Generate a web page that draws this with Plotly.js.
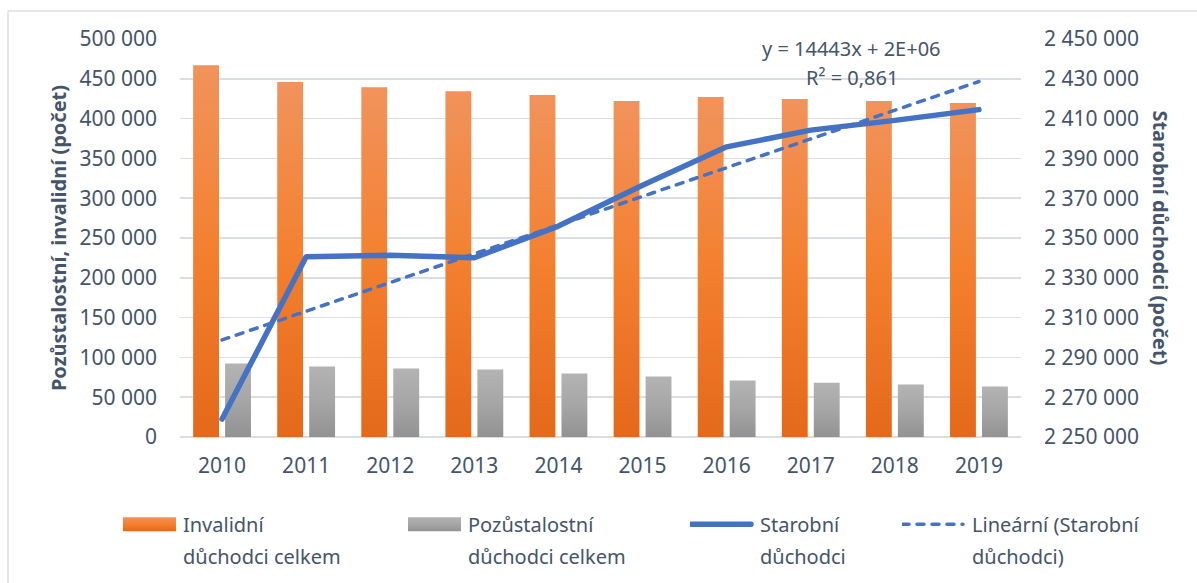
<!DOCTYPE html>
<html>
<head>
<meta charset="utf-8">
<script src="https://cdn.plot.ly/plotly-3.0.1.min.js"></script>
<style>
html,body{margin:0;padding:0;background:#fff;}
#chart{width:1197px;height:583px;}
</style>
</head>
<body>
<svg width="0" height="0" style="position:absolute">
  <defs>
    <linearGradient id="gOrange" x1="0" y1="0" x2="0" y2="1">
      <stop offset="0" stop-color="#F1935C"/>
      <stop offset="0.5" stop-color="#F3802F"/>
      <stop offset="1" stop-color="#E4691A"/>
    </linearGradient>
    <linearGradient id="gGray" x1="0" y1="0" x2="0" y2="1">
      <stop offset="0" stop-color="#B3B3B3"/>
      <stop offset="0.5" stop-color="#A6A6A6"/>
      <stop offset="1" stop-color="#929292"/>
    </linearGradient>
  </defs>
</svg>
<div id="chart"></div>
<script>
// ---- data ----
const years = ['2010','2011','2012','2013','2014','2015','2016','2017','2018','2019'];
const invalidni = [467000, 446000, 439500, 434500, 429500, 422000, 427000, 424500, 422000, 419500];
const pozustalostni = [92200, 88500, 86000, 84700, 79700, 75900, 70900, 68300, 65800, 63300];
const starobni = [2259000, 2340600, 2341300, 2340100, 2356000, 2376500, 2395800, 2404200, 2409100, 2414500];
const seriesNames = ['Invalidní<br>důchodci celkem', 'Pozůstalostní<br>důchodci celkem', 'Starobní<br>důchodci', 'Lineární (Starobní<br>důchodci)'];
const leftTicks = {min: 0, max: 500000, step: 50000};
const rightTicks = {min: 2250000, max: 2450000, step: 20000};
const equationLines = ['y = 14443x + 2E+06', 'R² = 0,861'];
const leftTitle = 'Pozůstalostní, invalidní (počet)';
const rightTitle = 'Starobní důchodci (počet)';

// linear trendline (least squares over x = 1..n), as the spreadsheet does
const xs = years.map((_, i) => i + 1);
const n = xs.length;
const mx = xs.reduce((a, b) => a + b, 0) / n;
const my = starobni.reduce((a, b) => a + b, 0) / n;
let sxy = 0, sxx = 0;
xs.forEach((x, i) => { sxy += (x - mx) * (starobni[i] - my); sxx += (x - mx) * (x - mx); });
const slope = sxy / sxx;
const intercept = my - slope * mx;
const trend = xs.map(x => intercept + slope * x);

const txtColor = '#44546A';
const fontFam = '"Noto Sans", "Open Sans", "DejaVu Sans", sans-serif';
const gradFills = ['url(#gOrange)', 'url(#gGray)'];
const barColors = ['#F07F30', '#A5A5A5'];

const traces = [
  {type: 'bar', x: years, y: invalidni, name: seriesNames[0], marker: {color: barColors[0]}, legend: 'legend', hoverinfo: 'skip'},
  {type: 'bar', x: years, y: pozustalostni, name: seriesNames[1], marker: {color: barColors[1]}, legend: 'legend2', hoverinfo: 'skip'},
  {type: 'scatter', mode: 'lines', x: years, y: starobni, yaxis: 'y2', name: seriesNames[2],
   line: {color: '#4472C4', width: 5.5}, legend: 'legend3', hoverinfo: 'skip'},
  {type: 'scatter', mode: 'lines', x: years, y: trend, yaxis: 'y2', name: seriesNames[3],
   line: {color: '#4472C4', width: 3.5, dash: '7px,8px'}, legend: 'legend4', hoverinfo: 'skip'}
];

function legendCfg(x) {
  return {x: x, xanchor: 'left', y: -0.17, yanchor: 'top', orientation: 'v', valign: 'top',
          itemwidth: 60, font: {family: fontFam, size: 20, color: txtColor}, bgcolor: 'rgba(0,0,0,0)', borderwidth: 0};
}

const layout = {
  width: 1197, height: 583,
  margin: {l: 180, r: 176, t: 39, b: 146},
  paper_bgcolor: '#ffffff', plot_bgcolor: '#ffffff',
  separators: ', ',
  font: {family: fontFam, size: 21, color: txtColor},
  barmode: 'group', bargap: 0.24, bargroupgap: 0.19,
  xaxis: {type: 'category', showgrid: false, zeroline: false, showline: false, ticks: '',
          ticklabelstandoff: 14, tickfont: {size: 21, color: txtColor}},
  yaxis: {range: [leftTicks.min, leftTicks.max], tick0: leftTicks.min, dtick: leftTicks.step, tickformat: ',.0f',
          gridcolor: '#DADEE4', gridwidth: 1.5, zeroline: true, zerolinecolor: '#DADEE4', zerolinewidth: 1.5,
          showline: false, ticks: '', ticklabelstandoff: 22, tickfont: {size: 21, color: txtColor}},
  yaxis2: {overlaying: 'y', side: 'right', range: [rightTicks.min, rightTicks.max], tick0: rightTicks.min, dtick: rightTicks.step,
           tickformat: ',.0f', showgrid: false, zeroline: false, showline: false, ticks: '', ticklabelstandoff: 22,
           tickfont: {size: 21, color: txtColor}},
  showlegend: true,
  legend: legendCfg(-0.0797),
  legend2: legendCfg(0.2592),
  legend3: legendCfg(0.6064),
  legend4: legendCfg(0.8585),
  annotations: [
    {xref: 'paper', yref: 'paper', x: -0.145, y: 0.5, text: '<b>' + leftTitle + '</b>', textangle: -90, showarrow: false,
     font: {family: fontFam, size: 20, color: txtColor}, xanchor: 'center', yanchor: 'middle'},
    {xref: 'paper', yref: 'paper', x: 1.166, y: 0.5, text: '<b>' + rightTitle + '</b>', textangle: 90, showarrow: false,
     font: {family: fontFam, size: 20, color: txtColor}, xanchor: 'center', yanchor: 'middle'},
    {xref: 'paper', yref: 'paper', x: 0.799, y: 0.975, text: equationLines[0], showarrow: false,
     font: {family: fontFam, size: 20, color: txtColor}, xanchor: 'center', yanchor: 'middle'},
    {xref: 'paper', yref: 'paper', x: 0.799, y: 0.9045, text: equationLines[1], showarrow: false,
     font: {family: fontFam, size: 20, color: txtColor}, xanchor: 'center', yanchor: 'middle'}
  ],
  shapes: [
    {type: 'line', xref: 'paper', yref: 'paper', x0: -0.2045, x1: 1.21, y0: 1.0704, y1: 1.0704, line: {color: '#DADEE4', width: 1.5}, layer: 'below'},
    {type: 'line', xref: 'paper', yref: 'paper', x0: -0.2045, x1: -0.2045, y0: 1.0704, y1: -0.38, line: {color: '#DADEE4', width: 1.5}, layer: 'below'}
  ]
};

function restyleDom(gd) {
  // gradient fills on bars
  gd.querySelectorAll('.barlayer .trace').forEach((t, i) => {
    t.querySelectorAll('.point path').forEach(p => { p.style.fill = gradFills[i]; });
  });
  // round caps on lines
  gd.querySelectorAll('.scatterlayer .trace path.js-line').forEach(p => {
    p.style.strokeLinecap = 'round';
    p.style.strokeLinejoin = 'round';
  });
  // legend symbols shaped like the spreadsheet legend
  gd.querySelectorAll('g.traces').forEach(it => {
    try {
      const t = it.querySelector('text');
      if (!t) return;
      const tx = parseFloat(t.getAttribute('x')) || 70;
      t.querySelectorAll('tspan.line').forEach((s, k) => { if (k > 0) s.setAttribute('dy', '1.6em'); });
      const label = t.textContent || '';
      let barIdx = -1;
      if (label.indexOf('Invalidn') === 0) barIdx = 0;
      else if (label.indexOf('Poz') === 0) barIdx = 1;
      if (barIdx >= 0) {
        it.querySelectorAll('.legendpoints g').forEach(g => g.removeAttribute('transform'));
        it.querySelectorAll('.legendpoints path').forEach(p => {
          p.removeAttribute('transform');
          p.setAttribute('d', 'M' + (tx - 60) + ',7H' + (tx - 7) + 'V-7H' + (tx - 60) + 'Z');
          p.style.fill = gradFills[barIdx];
          p.style.stroke = 'none';
        });
      } else {
        it.querySelectorAll('.legendlines path').forEach(p => {
          p.removeAttribute('transform');
          p.setAttribute('d', 'M' + (tx - 70) + ',0h61');
          p.style.strokeLinecap = 'round';
        });
      }
    } catch (e) { /* keep going */ }
  });
}

Plotly.newPlot('chart', traces, layout, {staticPlot: true, displayModeBar: false}).then(gd => {
  restyleDom(gd);
  gd.on('plotly_afterplot', () => restyleDom(gd));
  [50, 200].forEach(ms => setTimeout(() => restyleDom(gd), ms));
});
</script>
</body>
</html>
